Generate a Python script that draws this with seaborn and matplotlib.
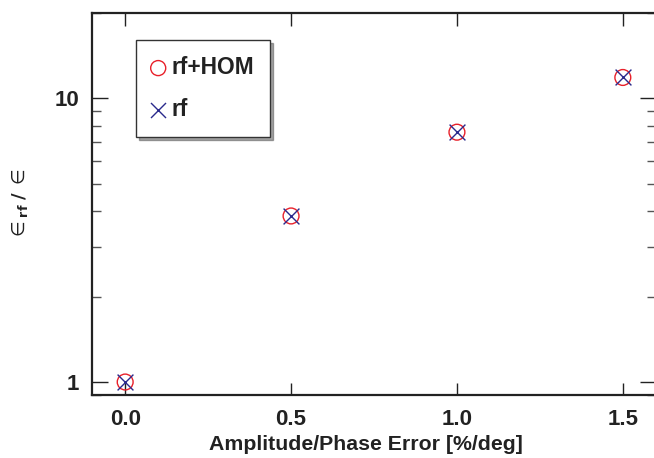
import matplotlib
matplotlib.use("Agg")
import matplotlib.pyplot as plt
import seaborn as sns
import numpy as np
import pandas as pd
from matplotlib.ticker import LogLocator, FixedLocator, NullFormatter

error = [0.0, 0.5, 1.0, 1.5]
ratio_rf_hom = [1.0, 3.85, 7.6, 11.85]
ratio_rf = [1.0, 3.85, 7.6, 11.85]
x_ticks = [0.0, 0.5, 1.0, 1.5]
x_tick_labels = ["0.0", "0.5", "1.0", "1.5"]
y_ticks = [1, 10]
y_tick_labels = ["1", "10"]

sns.set_style("ticks")
plt.rcParams['font.family'] = ['Liberation Sans', 'DejaVu Sans']
plt.rcParams['mathtext.fontset'] = 'dejavusans'

fig = plt.figure(figsize=(6.54, 4.58), dpi=100)
ax = fig.add_axes([92/654, 63/458, (656-92)/654, (395-13)/458])

df_hom = pd.DataFrame({"x": error, "y": ratio_rf_hom})
df_rf = pd.DataFrame({"x": error, "y": ratio_rf})

sns.scatterplot(data=df_hom, x="x", y="y", ax=ax, marker="o", s=130,
                facecolors="none", edgecolor="#e8202a", linewidth=1.0,
                label="rf+HOM", zorder=3)
sns.scatterplot(data=df_rf, x="x", y="y", ax=ax, marker="x", s=130,
                color="#2a2a8c", linewidth=1.0, label="rf", zorder=4)

ax.set_yscale("log")
ax.set_xlim(-0.1, 1.6)
ax.set_ylim(0.9, 20)

ax.set_xticks(x_ticks)
ax.set_xticklabels(x_tick_labels)
ax.yaxis.set_major_locator(FixedLocator(y_ticks))
ax.set_yticklabels(y_tick_labels)
ax.yaxis.set_minor_locator(LogLocator(base=10, subs=np.arange(2, 10)))
ax.yaxis.set_minor_formatter(NullFormatter())
ax.xaxis.set_minor_locator(FixedLocator([]))

for lbl in ax.get_xticklabels() + ax.get_yticklabels():
    lbl.set_fontweight("bold")
    lbl.set_fontsize(16)

ax.tick_params(axis="x", which="major", direction="in", length=9, width=1.0,
               top=True, bottom=True, colors="#222222", pad=10)
ax.tick_params(axis="y", which="major", direction="in", length=11.5, width=1.0,
               left=True, right=True, colors="#222222", pad=9)
ax.tick_params(axis="y", which="minor", direction="in", length=6.5, width=1.0,
               left=True, right=True, color="#555555")
for lbl in ax.get_xticklabels() + ax.get_yticklabels():
    lbl.set_color("#222222")

for sp in ax.spines.values():
    sp.set_linewidth(1.6)
    sp.set_color("#222222")

ax.set_xlabel("Amplitude/Phase Error [%/deg]", fontsize=15.3, fontweight="bold",
              color="#222222", labelpad=5)
ax.xaxis.set_label_coords(0.486, -0.105)
ax.xaxis.label.set_verticalalignment("top")
ax.set_ylabel(r"$\in_{\mathbf{rf}}$ $\mathbf{/}$ $\in$", fontsize=13, color="#222222",
              labelpad=18)

leg = ax.legend(loc="upper left", bbox_to_anchor=(0.078, 0.929), borderaxespad=0,
                frameon=True, fancybox=False, shadow=True,
                prop={"weight": "bold", "size": 16.4}, handletextpad=0.3,
                labelspacing=0.85, borderpad=0.7, handlelength=0.55,
                markerscale=0.95)
leg.get_frame().set_edgecolor("#333333")
leg.get_frame().set_linewidth(1.0)
for t in leg.get_texts():
    t.set_color("#222222")

fig.savefig("out.png", dpi=100)
